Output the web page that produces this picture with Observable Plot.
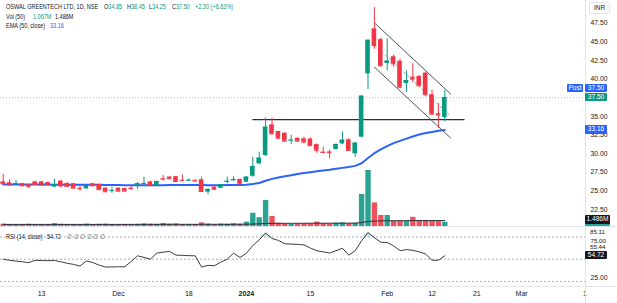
<!DOCTYPE html>
<html><head><meta charset="utf-8">
<script src="https://cdn.jsdelivr.net/npm/d3@7"></script>
<script src="https://cdn.jsdelivr.net/npm/@observablehq/plot@0.6"></script>
<style>
body{margin:0;background:#fff;}
#c{position:relative;width:617px;height:303px;overflow:hidden;font-family:"Liberation Sans",Arial,sans-serif;color:#131722;background:#fff;}
.t{position:absolute;white-space:nowrap;font-size:6.6px;line-height:8px;transform:scaleX(0.84);transform-origin:0 50%;}
.sep{position:absolute;background:#e0e3eb;}
</style></head><body><div id="c"></div>
<script>
// ---- data (index = trading day) ----
const open  = [26.2,26.08,25.9,25.95,25.8,26.2,26.2,26.1,25.5,26.3,26.0,25.95,25.35,25.27,25.95,25.85,25.35,24.95,25.35,25.3,25.35,25.67,25.92,26.2,25.72,26.65,26.85,26.9,26.42,26.36,26.42,26.48,24.82,25.49,25.35,26.2,26.34,26.52,26.16,26.96,28.63,29.74,33.86,32.96,32.73,31.72,32.06,31.98,31.95,31.2,30.2,30.22,30.55,31.3,31.85,29.97,32.2,40.7,46.75,45.3,42.1,43.0,42.4,39.4,40.25,40.35,40.8,37.9,35.35,34.85];
const high  = [27.2,26.5,26.4,26.0,25.85,26.25,26.25,26.2,26.55,26.4,26.05,26.0,25.6,25.7,26.0,25.9,25.4,25.5,25.4,25.35,25.55,26.1,26.8,26.3,26.3,27.05,26.9,26.95,27.15,26.6,26.45,26.83,25.3,25.55,25.85,26.85,26.9,26.6,26.9,29.5,30.2,34.75,34.75,33.0,32.8,32.45,32.1,32.2,32.1,31.3,30.86,30.45,31.3,32.9,32.0,31.5,37.8,45.3,49.6,45.5,45.4,43.2,42.7,41.1,42.05,40.5,40.9,38.5,36.7,38.45];
const low   = [25.9,25.6,25.7,25.6,25.3,25.8,25.7,25.75,25.45,25.4,25.55,25.3,24.95,25.2,25.6,25.1,24.8,24.68,24.9,24.9,25.05,25.2,25.8,25.6,25.7,26.3,26.55,26.2,26.25,26.3,26.25,24.8,24.47,25.15,25.3,25.95,26.3,25.9,26.1,26.83,28.5,29.6,32.5,31.9,31.6,31.2,31.6,31.45,31.0,30.05,29.97,29.3,30.5,31.2,30.3,29.5,32.1,38.6,44.0,41.6,41.1,41.6,38.8,38.2,39.5,39.0,37.6,35.1,33.4,34.25];
const close = [25.95,25.81,25.98,25.67,25.6,25.85,25.76,25.8,25.85,25.67,25.6,25.35,25.28,25.67,25.67,25.15,24.87,25.05,24.95,24.95,25.3,25.94,25.98,25.7,26.25,26.58,26.6,26.25,26.36,26.42,26.3,24.91,25.18,25.2,25.81,26.28,26.52,25.94,26.83,28.27,29.38,33.54,32.65,32.06,31.66,31.8,31.66,31.53,31.05,30.45,30.15,30.12,31.22,31.8,30.42,31.39,37.7,45.2,44.5,41.8,42.4,42.05,38.9,39.8,40.0,39.1,37.9,35.3,35.17,37.5];
const volume = [0.6,0.5,0.35,0.45,0.55,0.4,0.5,0.45,0.7,0.55,0.45,0.5,0.35,0.6,0.45,0.55,0.6,0.5,0.45,0.5,0.4,0.55,0.65,0.6,0.55,0.75,0.6,0.65,0.5,0.45,0.5,0.9,0.6,0.5,0.6,0.55,0.7,0.6,1.1,3.3,2.2,6.5,2.5,0.8,0.6,0.5,0.6,0.6,0.7,1.1,0.7,0.6,0.8,0.9,0.7,0.8,8.0,14.0,5.9,2.75,2.75,1.3,1.3,1.3,2.3,1.5,1.5,1.3,1.3,1.067];
const volumeMA = [0.52,0.52,0.52,0.52,0.52,0.52,0.52,0.52,0.52,0.52,0.52,0.52,0.52,0.52,0.52,0.52,0.52,0.52,0.52,0.52,0.53,0.53,0.53,0.53,0.53,0.53,0.54,0.54,0.54,0.54,0.54,0.55,0.55,0.55,0.55,0.55,0.55,0.55,0.57,0.62,0.65,0.76,0.8,0.8,0.8,0.8,0.8,0.81,0.81,0.82,0.82,0.82,0.83,0.83,0.83,0.84,0.98,1.25,1.35,1.4,1.43,1.44,1.45,1.46,1.47,1.47,1.48,1.48,1.485,1.486];
const ema50 = [25.85,25.85,25.85,25.84,25.84,25.84,25.84,25.84,25.83,25.83,25.83,25.82,25.82,25.81,25.81,25.8,25.79,25.78,25.77,25.76,25.75,25.75,25.75,25.75,25.75,25.76,25.77,25.77,25.78,25.78,25.79,25.77,25.76,25.76,25.76,25.77,25.78,25.79,25.83,25.92,26.05,26.35,26.6,26.8,26.97,27.1,27.25,27.38,27.5,27.62,27.72,27.82,27.95,28.08,28.2,28.35,28.7,29.4,30.05,30.55,31.0,31.4,31.7,32.0,32.3,32.55,32.75,32.9,33.05,33.16];
const rsi14 = [50,48.5,47.5,46.5,45.4,48.6,48.2,48,48.3,46.5,44.5,43,40.8,47.7,45.5,42,39.4,39.6,39.8,39.8,47,54.6,52.5,50,58.3,59.5,60.6,55.5,55.2,54.8,54.6,39.4,41.7,41.3,46,50,58.3,52.3,58,68.5,76,85.5,78,75.4,70.8,70.5,70,69.4,65,61.5,60,58.3,61.5,64.8,55.5,61.5,75,86,79,73,72.5,68,61.5,63,62,60,57,48.6,48.6,54.72];
const priceTicks = [22.5,25,27.5,30,32.5,35,40,42.5,45,47.5];
const rsiTicks = [25,75];
const rsiBands = [80,50,20];
const timeTicks = [6,18,29,38,48,60,67,74,81,90.9];
const timeLabels = ["13","Dec","18","2024","15","Feb","12","21","Mar","1"];
const supportLine = [{i:39,p:34.57},{i:72,p:34.57}];
const channelUpper = [{i:58,p:47.55},{i:69.9,p:38.0}];
const channelLower = [{i:58,p:41.6},{i:69.9,p:32.1}];
const channelMid = [{i:58,p:44.6},{i:69.9,p:35.05}];

// ---- drawing ----
const W = 617, MR = 32, XD = [-0.42, 90.98];
const G = "#089981", RD = "#f23645", VG = "#2ba393", VRD = "#f0525c", BLUE = "#2962ff", INK = "#131722";
const FONT = "'Liberation Sans', Arial, sans-serif";
const c = document.getElementById("c");
const candles = open.map((o, i) => ({i, o, h: high[i], l: low[i], c: close[i], v: volume[i], up: close[i] >= o}));
const col = d => d.up ? G : RD;

function place(el, top) { el.style.position = "absolute"; el.style.left = "0px"; el.style.top = top + "px"; c.appendChild(el); return el; }

const volPlot = Plot.plot({
  width: W, height: 226, margin: 0, marginRight: MR,
  style: {background: "transparent", overflow: "visible"},
  x: {domain: XD, axis: null},
  y: {domain: [0, 56.5], axis: null},
  color: {type: "identity"},
  marks: [
    Plot.ruleX(candles, {x: "i", y1: 0, y2: "v", stroke: d => d.up ? VG : VRD, strokeWidth: 5.4}),
    Plot.line(volumeMA, {x: (d, i) => i, y: d => d, stroke: "#2a2e39", strokeWidth: 1})
  ]
});
place(volPlot, 0);

const pricePlot = Plot.plot({
  width: W, height: 226, margin: 0, marginRight: MR,
  style: {background: "transparent", fontSize: "6.8px", fontFamily: FONT, color: INK, overflow: "visible"},
  x: {domain: XD, axis: null},
  y: {domain: [20.21, 50.55], axis: "right", ticks: priceTicks, tickFormat: d3.format(".2f"), tickSize: 0, tickPadding: 5, label: null},
  color: {type: "identity"},
  marks: [
    Plot.ruleY([close[close.length - 1]], {stroke: BLUE, strokeOpacity: 0.45, strokeDasharray: "1,2"}),
    Plot.line(ema50, {x: (d, i) => i, y: d => d, stroke: BLUE, strokeWidth: 2}),
    Plot.line(supportLine, {x: "i", y: "p", stroke: "#2a2e39", strokeWidth: 1.3}),
    Plot.line(channelUpper, {x: "i", y: "p", stroke: "#50535e", strokeWidth: 1}),
    Plot.line(channelLower, {x: "i", y: "p", stroke: "#50535e", strokeWidth: 1}),
    Plot.line(channelMid, {x: "i", y: "p", stroke: "#a0a3ab", strokeWidth: 1, strokeDasharray: "2,3"}),
    Plot.ruleX(candles, {x: "i", y1: "l", y2: "h", stroke: col, strokeWidth: 1}),
    Plot.rect(candles, {x1: d => d.i - 0.36, x2: d => d.i + 0.36, y1: "o", y2: "c", fill: col}),
    Plot.ruleY(candles, {x1: d => d.i - 0.36, x2: d => d.i + 0.36, y: "c", stroke: col, strokeWidth: 1})
  ]
});
place(pricePlot, 0);

const timeMap = new Map(timeTicks.map((t, i) => [t, timeLabels[i]]));
const rsiData = rsi14.map((r, i) => ({i, r}));
const rsiPlot = Plot.plot({
  width: W, height: 75, margin: 0, marginRight: MR, marginBottom: 18,
  style: {background: "transparent", fontSize: "6.8px", fontFamily: FONT, color: INK, overflow: "visible"},
  x: {domain: XD, axis: "bottom", ticks: timeTicks, tickFormat: d => timeMap.get(d), tickSize: 0, tickPadding: 6, label: null},
  y: {domain: [14.5, 91.5], axis: "right", ticks: rsiTicks, tickFormat: d3.format(".2f"), tickSize: 0, tickPadding: 5, label: null},
  marks: [
    Plot.ruleY(rsiBands, {stroke: "#9598a1", strokeWidth: 0.8, strokeDasharray: "2,2"}),
    Plot.areaY(rsiData, {x: "i", y1: 80, y2: d => Math.max(d.r, 80), fill: G, fillOpacity: 0.22}),
    Plot.line(rsiData, {x: "i", y: "r", stroke: "#3a3d46", strokeWidth: 1})
  ]
});
place(rsiPlot, 228);
rsiPlot.querySelectorAll("text").forEach(t => {
  if (t.textContent === "2024") t.style.fontWeight = "bold";
  if (timeLabels.includes(t.textContent)) t.style.fontSize = "7px";
  if (t.textContent === "75.00") t.style.fontSize = "6.2px";
});

// separators
function sep(l, t, w, h) { const d = document.createElement("div"); d.className = "sep"; Object.assign(d.style, {left: l + "px", top: t + "px", width: w + "px", height: h + "px"}); c.appendChild(d); }
sep(585, 0, 1, 303);
sep(0, 226, 617, 1);
sep(0, 286, 617, 1);

// value labels on the right scale
const py = pricePlot.scale("y"), vy = volPlot.scale("y"), ry = rsiPlot.scale("y");
function box(text, yc, bg, left = 585, w = 22) {
  const d = document.createElement("div"); d.textContent = text;
  Object.assign(d.style, {position: "absolute", left: left + "px", top: (yc - 4.2) + "px", width: w + "px", height: "8.4px", lineHeight: "8.4px",
    background: bg, color: "#fff", fontSize: "6.6px", textAlign: "center", fontFamily: FONT, borderRadius: "1px"});
  c.appendChild(d); return d;
}
function txt(text, left, yc, color = INK, size = 6.8, lh = 8) {
  const d = document.createElement("div"); d.textContent = text;
  Object.assign(d.style, {position: "absolute", left: left + "px", top: (yc - lh / 2) + "px", height: lh + "px", lineHeight: lh + "px", fontSize: size + "px", color, fontFamily: FONT, whiteSpace: "nowrap"});
  c.appendChild(d); return d;
}
const last = close.length - 1;
box("37.50", py.apply(close[last]), G);
box("37.50", py.apply(close[last]) - 9, BLUE);
box("Post", py.apply(close[last]) - 9, BLUE, 567, 16);
box("33.16", py.apply(ema50[last]), BLUE);
box("", vy.apply(volume[last]), "#26a69a", 585, 25);
box("1.486M", vy.apply(volumeMA[last]) - 0.5, INK, 585, 25);
txt("85.11", 590, 228 + ry.apply(85.11) - 0.5, INK, 6.2, 6);
txt("55.44", 590, 228 + ry.apply(55.44) - 7.5, INK, 6.2, 6);
box("54.72", 228 + ry.apply(rsi14[last]), INK);
const inr = txt("INR", 589, 8, INK, 6.4);
Object.assign(inr.style, {border: "1px solid #e0e3eb", borderRadius: "2px", padding: "1px 4px", lineHeight: "8px", top: "2px"});

// legends
function seg(parts, left, yc) {
  const d = document.createElement("div"); d.className = "t";
  d.style.left = left + "px"; d.style.top = (yc - 4) + "px";
  parts.forEach(([s, color]) => { const sp = document.createElement("span"); sp.textContent = s; if (color) sp.style.color = color; d.appendChild(sp); });
  c.appendChild(d);
}
seg([["OSWAL GREENTECH LTD, 1D, NSE"]], 6, 7.3);
seg([["O"], ["34.85", G]], 104, 7.3);
seg([["H"], ["38.45", G]], 127, 7.3);
seg([["L"], ["34.25", G]], 149, 7.3);
seg([["C"], ["37.50", G]], 172, 7.3);
seg([["+2.30 (+6.63%)", G]], 195, 7.3);
seg([["Vol (50)"]], 6, 16.7);
seg([["1.067M", G]], 33, 16.7);
seg([["1.486M"]], 55, 16.7);
seg([["EMA (50, close)"]], 6, 25.7);
seg([["33.16", BLUE]], 50, 25.7);
seg([["RSI (14, close)"]], 6, 236.5);
seg([["54.72"]], 47, 236.5);
seg([["∅ ∅ ∅ ∅ ∅ ∅", "#787b86"]], 67, 236.5);
</script></body></html>
